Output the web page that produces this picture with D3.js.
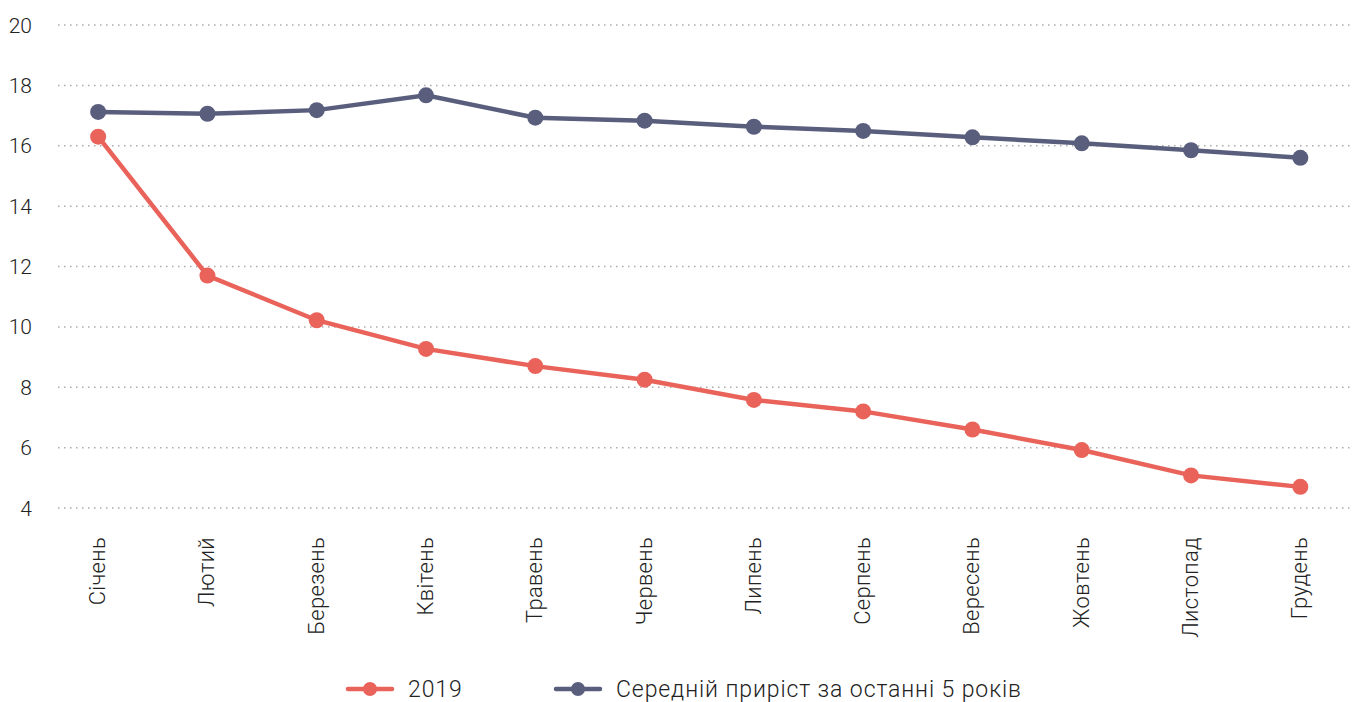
<!DOCTYPE html>
<html>
<head>
<meta charset="utf-8">
<script src="https://cdn.jsdelivr.net/npm/d3@7"></script>
<style>
  body { margin: 0; background: #fff; }
  svg text { font-family: Roboto, "Noto Sans", sans-serif; fill: #222; font-weight: 300; }
</style>
</head>
<body>
<div id="chart"></div>
<script>
var months = ["Січень", "Лютий", "Березень", "Квітень", "Травень", "Червень",
  "Липень", "Серпень", "Вересень", "Жовтень", "Листопад", "Грудень"];
var values2019 = [16.3, 11.7, 10.22, 9.27, 8.7, 8.25, 7.58, 7.2, 6.6, 5.92, 5.08, 4.7];
var avg5 = [17.12, 17.06, 17.18, 17.67, 16.93, 16.83, 16.63, 16.49, 16.28, 16.08, 15.85, 15.6];
var yTicks = [4, 6, 8, 10, 12, 14, 16, 18, 20];
var seriesNames = ["2019", "Середній приріст за останні 5 років"];
var colors = ["#e9635a", "#5a5e7d"];

var width = 1354, height = 702;
var svg = d3.select("#chart").append("svg")
  .attr("width", width).attr("height", height);

var x = d3.scaleBand().domain(months).range([43.5, 1355]);
var y = d3.scaleLinear().domain([4, 20]).range([508, 25]);

// grid
svg.append("g").selectAll("line")
  .data(yTicks).enter().append("line")
  .attr("x1", 58).attr("x2", width)
  .attr("y1", function(d) { return y(d); })
  .attr("y2", function(d) { return y(d); })
  .attr("stroke", "#aaa")
  .attr("stroke-width", 1.5)
  .attr("stroke-dasharray", "1.5,4.5");

// y labels
svg.append("g").selectAll("text")
  .data(yTicks).enter().append("text")
  .attr("x", 32)
  .attr("y", function(d) { return y(d); })
  .attr("dy", "0.36em")
  .attr("text-anchor", "end")
  .style("font-size", "21px")
  .text(function(d) { return d; });

// x labels
svg.append("g").selectAll("text")
  .data(months).enter().append("text")
  .attr("transform", function(d) {
    return "translate(" + (x(d) + x.bandwidth() / 2 + 7) + ",537) rotate(-90)";
  })
  .attr("text-anchor", "end")
  .style("font-size", "22px")
  .style("letter-spacing", "0.3px")
  .text(function(d) { return d; });

var line = d3.line()
  .x(function(d, i) { return x(months[i]) + x.bandwidth() / 2; })
  .y(function(d) { return y(d); });

[values2019, avg5].forEach(function(vals, k) {
  var g = svg.append("g");
  g.append("path")
    .datum(vals)
    .attr("d", line)
    .attr("fill", "none")
    .attr("stroke", colors[k])
    .attr("stroke-width", 4.5);
  g.selectAll("circle")
    .data(vals).enter().append("circle")
    .attr("cx", function(d, i) { return x(months[i]) + x.bandwidth() / 2; })
    .attr("cy", function(d) { return y(d); })
    .attr("r", 8)
    .attr("fill", colors[k]);
});

// legend
var legendX = [348, 556];
seriesNames.forEach(function(name, k) {
  var lg = svg.append("g").attr("transform", "translate(" + legendX[k] + ",689)");
  lg.append("line").attr("x1", 0).attr("x2", 44).attr("y1", 0).attr("y2", 0)
    .attr("stroke", colors[k]).attr("stroke-width", 4.5).attr("stroke-linecap", "round");
  lg.append("circle").attr("cx", 22).attr("cy", 0).attr("r", 7).attr("fill", colors[k]);
  lg.append("text").attr("x", 60).attr("y", 0).attr("dy", "0.33em")
    .style("font-size", "23px").style("letter-spacing", "0.9px").text(name);
});
</script>
</body>
</html>
